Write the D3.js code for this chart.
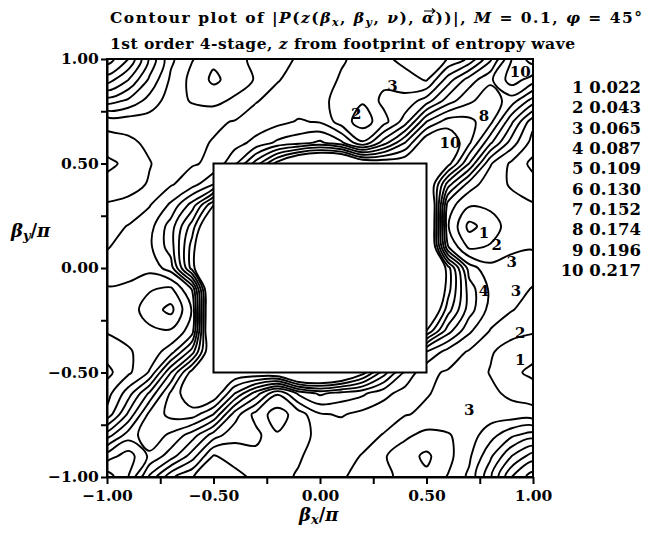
<!DOCTYPE html>
<html>
<head>
<meta charset="utf-8">
<script src="https://cdn.jsdelivr.net/npm/d3@7"></script>
<style>
  body { margin: 0; background: #fff; }
  svg text { font-family: "DejaVu Serif", serif; font-weight: bold; fill: #000; }
  .contour { fill: none; stroke: #000; stroke-width: 1.9; stroke-linejoin: round; }
  .axis path, .axis line { stroke: #000; stroke-width: 2; }
</style>
</head>
<body>
<svg id="chart" width="652" height="536"></svg>
<script>
// grid positions (beta / pi) of the sampled field, left->right and top->bottom
const betaX = [-1.0, -0.9, -0.8, -0.7, -0.6, -0.5, -0.4, -0.3, -0.2, -0.1, 0.0, 0.1, 0.2, 0.3, 0.4, 0.5, 0.6, 0.7, 0.8, 0.9, 1.0];
const betaY = [1.0, 0.9, 0.8, 0.7, 0.6, 0.5, 0.4, 0.3, 0.2, 0.1, 0.0, -0.1, -0.2, -0.3, -0.4, -0.5, -0.6, -0.7, -0.8, -0.9, -1.0];

// |P|, in contour-level units (1 level = 0.0217)
// inside the white square the value is large (masked region)
const field = [
  [10.5, 9.0, 5.8, 3.2, 2.05, 1.2, 1.6, 2.3, 2.7, 3.1, 3.4, 3.1, 2.7, 2.3, 1.6, 1.2, 2.05, 3.2, 5.8, 9.0, 10.5],
  [8.5, 7.0, 4.8, 2.8, 1.7, 0.8, 1.4, 2.1, 2.95, 3.3, 3.4, 2.9, 2.4, 2.7, 2.5, 1.9, 4.5, 6.5, 7.8, 9.5, 8.5],
  [5.5, 4.8, 3.6, 2.5, 1.9, 1.7, 2.2, 2.95, 3.3, 3.4, 3.3, 2.6, 2.1, 3.3, 3.3, 4.5, 6.5, 7.8, 8.6, 7.5, 5.5],
  [2.3, 2.4, 2.5, 2.6, 2.7, 2.85, 3.05, 3.4, 3.7, 4.1, 3.9, 2.5, 1.5, 2.6, 4.5, 8.0, 9.5, 9.3, 8.3, 5.2, 2.3],
  [1.6, 1.8, 2.2, 2.5, 2.8, 3.05, 3.6, 4.3, 5.2, 5.6, 6.2, 5.2, 3.1, 5.5, 8.0, 11, 11, 9.2, 6.2, 3.5, 1.6],
  [0.7, 1.3, 1.95, 2.5, 2.9, 3.2, 4.8, 7.5, 10.5, 13, 14, 14, 11.5, 11, 11, 11, 10.5, 7.0, 3.1, 1.8, 0.7],
  [1.4, 1.6, 2.1, 2.9, 3.6, 5.0, 14, 14, 14, 14, 14, 14, 14, 14, 14, 12, 6.5, 3.5, 2.4, 1.9, 1.4],
  [2.1, 2.3, 2.95, 4.2, 6.5, 10, 14, 14, 14, 14, 14, 14, 14, 14, 14, 14, 3.5, 2.1, 2.2, 2.3, 2.1],
  [2.6, 3.05, 3.6, 5.5, 8.5, 12.5, 14, 14, 14, 14, 14, 14, 14, 14, 14, 14, 3.1, 0.7, 1.5, 2.5, 2.6],
  [2.95, 3.3, 3.8, 5.5, 9.5, 13.5, 14, 14, 14, 14, 14, 14, 14, 14, 14, 14, 4.1, 1.8, 2.1, 2.9, 2.95],
  [3.3, 3.2, 3.3, 4.5, 9.5, 14, 14, 14, 14, 14, 14, 14, 14, 14, 14, 14, 9.5, 4.5, 3.3, 3.2, 3.3],
  [2.95, 2.9, 2.1, 1.8, 4.1, 14, 14, 14, 14, 14, 14, 14, 14, 14, 14, 13.5, 9.5, 5.5, 3.8, 3.3, 2.95],
  [2.6, 2.5, 1.5, 0.7, 3.1, 14, 14, 14, 14, 14, 14, 14, 14, 14, 14, 12.5, 8.5, 5.5, 3.6, 3.05, 2.6],
  [2.1, 2.3, 2.2, 2.1, 3.5, 14, 14, 14, 14, 14, 14, 14, 14, 14, 14, 10, 6.5, 4.2, 2.95, 2.3, 2.1],
  [1.4, 1.9, 2.4, 3.5, 6.5, 12, 14, 14, 14, 14, 14, 14, 14, 14, 14, 5.0, 3.6, 2.9, 2.1, 1.6, 1.4],
  [0.7, 1.8, 3.1, 7.0, 10.5, 11, 11, 11, 11.5, 14, 14, 13, 10.5, 7.5, 4.8, 3.2, 2.9, 2.5, 1.95, 1.3, 0.7],
  [1.6, 3.5, 6.2, 9.2, 11, 11, 8.0, 5.5, 3.1, 5.2, 6.2, 5.6, 5.2, 4.3, 3.6, 3.05, 2.8, 2.5, 2.2, 1.8, 1.6],
  [2.3, 5.2, 8.3, 9.3, 9.5, 8.0, 4.5, 2.6, 1.5, 2.5, 3.9, 4.1, 3.7, 3.4, 3.05, 2.85, 2.7, 2.6, 2.5, 2.4, 2.3],
  [5.5, 7.5, 8.6, 7.8, 6.5, 4.5, 3.3, 3.3, 2.1, 2.6, 3.3, 3.4, 3.3, 2.95, 2.2, 1.7, 1.9, 2.5, 3.6, 4.8, 5.5],
  [8.5, 9.5, 7.8, 6.5, 4.5, 1.9, 2.5, 2.7, 2.4, 2.9, 3.4, 3.3, 2.95, 2.1, 1.4, 0.8, 1.7, 2.8, 4.8, 7.0, 8.5],
  [10.5, 9.0, 5.8, 3.2, 2.05, 1.2, 1.6, 2.3, 2.7, 3.1, 3.4, 3.1, 2.7, 2.3, 1.6, 1.2, 2.05, 3.2, 5.8, 9.0, 10.5]
];

const levels = [1, 2, 3, 4, 5, 6, 7, 8, 9, 10];
const levelValues = ["0.022", "0.043", "0.065", "0.087", "0.109", "0.130", "0.152", "0.174", "0.196", "0.217"];

const xTicks = [-1, -0.75, -0.5, -0.25, 0, 0.25, 0.5, 0.75, 1];
const yTicks = [-1, -0.75, -0.5, -0.25, 0, 0.25, 0.5, 0.75, 1];
const labelledTicks = [-1, -0.5, 0, 0.5, 1];

// the masked square
const maskX = [-0.5, 0.5];
const maskY = [-0.5, 0.5];

// level numbers written on the curves
const curveLabels = [
  { bx: 0.17, by: 0.74, text: "2" },
  { bx: 0.34, by: 0.87, text: "3" },
  { bx: 0.77, by: 0.73, text: "8" },
  { bx: 0.61, by: 0.60, text: "10" },
  { bx: 0.94, by: 0.94, text: "10" },
  { bx: 0.77, by: 0.17, text: "1" },
  { bx: 0.83, by: 0.11, text: "2" },
  { bx: 0.90, by: 0.03, text: "3" },
  { bx: 0.77, by: -0.11, text: "4" },
  { bx: 0.92, by: -0.11, text: "3" },
  { bx: 0.94, by: -0.31, text: "2" },
  { bx: 0.94, by: -0.44, text: "1" },
  { bx: 0.70, by: -0.68, text: "3" }
];

const svg = d3.select("#chart");
const mLeft = 107, mRight = 533, mTop = 59, mBottom = 477;

const x = d3.scaleLinear().domain([-1, 1]).range([mLeft, mRight]);
const y = d3.scaleLinear().domain([-1, 1]).range([mBottom, mTop]);

// grid index space -> beta space (d3.contours puts sample i at i + 0.5)
const nx = betaX.length, ny = betaY.length;
const gx = d3.scaleLinear().domain([0.5, nx - 0.5]).range([betaX[0], betaX[nx - 1]]);
const gy = d3.scaleLinear().domain([0.5, ny - 0.5]).range([betaY[0], betaY[ny - 1]]);

const contours = d3.contours()
  .size([nx, ny])
  .thresholds(levels)(field.flat());

// smooth each ring a little, the original curves are not polygonal
const ringLine = d3.line().curve(d3.curveCatmullRomClosed.alpha(0.5));
function contourPath(c) {
  let d = "";
  c.coordinates.forEach((poly) => {
    poly.forEach((ring) => {
      const pts = ring.slice(0, -1).map((p) => [x(gx(p[0])), y(gy(p[1]))]);
      if (pts.length > 2) d += ringLine(pts);
    });
  });
  return d;
}

svg.append("clipPath").attr("id", "plotClip")
  .append("rect")
  .attr("x", mLeft).attr("y", mTop)
  .attr("width", mRight - mLeft).attr("height", mBottom - mTop);

svg.append("g")
  .attr("clip-path", "url(#plotClip)")
  .selectAll("path")
  .data(contours)
  .join("path")
  .attr("class", "contour")
  .attr("d", contourPath);

// white square over the masked region
svg.append("rect")
  .attr("x", x(maskX[0]))
  .attr("y", y(maskY[1]))
  .attr("width", x(maskX[1]) - x(maskX[0]))
  .attr("height", y(maskY[0]) - y(maskY[1]))
  .attr("fill", "#fff")
  .attr("stroke", "#000")
  .attr("stroke-width", 2);

// curve labels
svg.append("g")
  .selectAll("text")
  .data(curveLabels)
  .join("text")
  .attr("x", (d) => x(d.bx))
  .attr("y", (d) => y(d.by))
  .attr("dy", "0.35em")
  .attr("text-anchor", "middle")
  .attr("font-size", 15)
  .text((d) => d.text);

// axes
const fmt = d3.format(".2f");
const tickText = (d) => (labelledTicks.includes(d) ? fmt(d) : "");

const xAxis = svg.append("g")
  .attr("class", "axis")
  .attr("transform", `translate(0,${mBottom})`)
  .call(d3.axisBottom(x).tickValues(xTicks).tickFormat(tickText).tickSize(7).tickSizeOuter(0));
xAxis.selectAll("text").attr("font-size", 15.5).attr("dy", "0.9em");

const yAxis = svg.append("g")
  .attr("class", "axis")
  .attr("transform", `translate(${mLeft},0)`)
  .call(d3.axisLeft(y).tickValues(yTicks).tickFormat(tickText).tickSize(6).tickSizeOuter(0));
yAxis.selectAll("text").attr("font-size", 15.5).attr("dx", "0.05em");

// frame
svg.append("rect")
  .attr("x", mLeft).attr("y", mTop)
  .attr("width", mRight - mLeft).attr("height", mBottom - mTop)
  .attr("fill", "none").attr("stroke", "#000").attr("stroke-width", 2);

// titles
function addPieces(textSel, pieces) {
  pieces.forEach((p) => {
    const t = textSel.append("tspan").text(p.s);
    if (p.i) t.attr("font-style", "italic");
    if (p.size) t.attr("font-size", p.size);
    if (p.dy) t.attr("dy", p.dy);
    if (p.cls) t.attr("class", p.cls);
  });
}

const title1 = svg.append("text").attr("x", 110).attr("y", 23).attr("font-size", 15.5)
  .attr("textLength", 532).attr("lengthAdjust", "spacing");
addPieces(title1, [
  { s: "Contour plot of |" }, { s: "P", i: true }, { s: "(" }, { s: "z", i: true }, { s: "(" },
  { s: "β", i: true }, { s: "x", i: true, size: 11, dy: 3 }, { s: ", ", dy: -3 },
  { s: "β", i: true }, { s: "y", i: true, size: 11, dy: 3 }, { s: ", ", dy: -3 },
  { s: "ν", i: true }, { s: "), " }, { s: "α", i: true, cls: "alpha" }, { s: "))|, " },
  { s: "M", i: true }, { s: " = 0.1, " }, { s: "φ", i: true }, { s: " = 45°" }
]);

// small vector arrow over alpha
const aBox = title1.select("tspan.alpha").node().getExtentOfChar(0);
const ax0 = aBox.x + 2, ax1 = aBox.x + aBox.width + 1, ay = 23 - 12;
svg.append("path")
  .attr("d", `M${ax0},${ay}H${ax1}M${ax1 - 3},${ay - 2.5}L${ax1},${ay}L${ax1 - 3},${ay + 2.5}`)
  .attr("fill", "none").attr("stroke", "#000").attr("stroke-width", 1.2);

const title2 = svg.append("text").attr("x", 110).attr("y", 49).attr("font-size", 15.5)
  .attr("textLength", 465).attr("lengthAdjust", "spacing");
addPieces(title2, [
  { s: "1st order 4-stage, " }, { s: "z", i: true }, { s: " from footprint of entropy wave" }
]);

const xLabel = svg.append("text").attr("x", 299).attr("y", 521).attr("font-size", 18);
addPieces(xLabel, [{ s: "β", i: true }, { s: "x", i: true, size: 13, dy: 3 }, { s: "/", dy: -3 }, { s: "π", i: true }]);

const yLabel = svg.append("text").attr("x", 11).attr("y", 237).attr("font-size", 18);
addPieces(yLabel, [{ s: "β", i: true }, { s: "y", i: true, size: 13, dy: 3 }, { s: "/", dy: -3 }, { s: "π", i: true }]);

// level legend
const legendY = d3.scaleLinear().domain([1, 10]).range([93, 276]);
svg.append("g")
  .selectAll("text")
  .data(levels)
  .join("text")
  .attr("x", 641)
  .attr("y", (d) => legendY(d))
  .attr("text-anchor", "end")
  .attr("font-size", 16.5)
  .text((d, i) => `${d} ${levelValues[i]}`);
</script>
</body>
</html>
